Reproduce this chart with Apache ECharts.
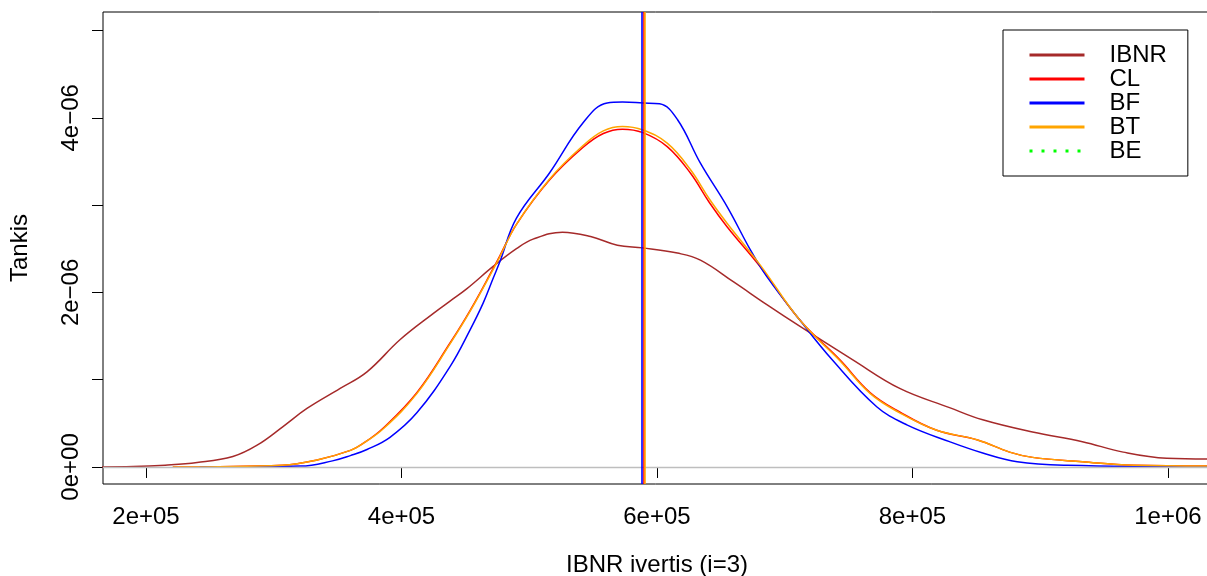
<!DOCTYPE html>
<html>
<head>
<meta charset="utf-8">
<script src="https://cdn.jsdelivr.net/npm/echarts@6/dist/echarts.min.js"></script>
<style>
html,body{margin:0;padding:0;background:#fff;}
#chart{width:1207px;height:576px;}
</style>
</head>
<body>
<div id="chart"></div>
<script>
// density values are in units of 1e-6
const SCALE = 1e-6;

const xIBNR = [150000,190000,215000,240000,268000,287000,307000,326000,352000,373000,399000,425000,438000,451000,472000,490000,503000,526000,548000,569000,589000,616000,634000,660000,686000,712000,753000,790000,829000,855000,894000,933000,965000,999000,1040000];
const yIBNR = [0,0.005,0.02,0.05,0.12,0.25,0.46,0.67,0.90,1.09,1.46,1.76,1.90,2.04,2.30,2.50,2.61,2.69,2.64,2.54,2.51,2.45,2.37,2.12,1.86,1.61,1.23,0.90,0.68,0.54,0.40,0.29,0.17,0.10,0.09];

const xCL = [221000,307000,334000,360000,370000,386000,412000,438000,454000,472000,477000,490000,516000,542000,558000,573000,589000,608000,626000,641000,655000,681000,712000,743000,767000,790000,819000,851000,876000,894000,933000,973000,1040000];
const yCL = [0,0.02,0.08,0.19,0.27,0.45,0.85,1.42,1.80,2.28,2.42,2.78,3.29,3.66,3.82,3.87,3.83,3.67,3.37,3.03,2.75,2.29,1.68,1.23,0.85,0.63,0.42,0.31,0.17,0.11,0.06,0.02,0.01];

const xBT = xCL;
const yBT = [0,0.02,0.08,0.19,0.27,0.44,0.84,1.41,1.79,2.27,2.41,2.78,3.30,3.68,3.85,3.90,3.86,3.71,3.41,3.07,2.79,2.31,1.68,1.22,0.84,0.62,0.42,0.31,0.17,0.11,0.06,0.02,0.01];

const xBF = [242000,321000,346000,360000,373000,391000,412000,438000,454000,464000,472000,477000,490000,516000,542000,561000,573000,589000,602000,616000,634000,655000,673000,686000,712000,737000,772000,796000,829000,855000,882000,921000,1040000];
const yBF = [0,0.01,0.07,0.13,0.20,0.34,0.62,1.15,1.58,1.88,2.17,2.35,2.85,3.37,3.94,4.17,4.18,4.17,4.16,3.98,3.48,2.98,2.49,2.18,1.68,1.23,0.69,0.48,0.29,0.16,0.06,0.02,0];

// vertical reference lines (means)
const meanCL = 589500;
const meanBF = 588400;
const meanBT = 590200;

const seriesNames = ['IBNR','CL','BF','BT','BE'];
const seriesColors = ['#A52A2A','#FF0000','#0000FF','#FFA500','#00FF00'];

const xTicks = [200000,400000,600000,800000,1000000];
const xTickLabels = ['2e+05','4e+05','6e+05','8e+05','1e+06'];
const yTicks = [0,1,2,3,4,5];
const yLabelTicks = [0,2,4];
const yTickLabels = ['0e+00','2e\u221206','4e\u221206'];

function pairs(xs, ys){ return xs.map((x,i)=>[x, ys[i]*SCALE]); }

const FONT = 'Liberation Sans, Arial, Helvetica, sans-serif';

function vline(v, color){
  return {
    silent: true, symbol: ['none','none'],
    label: {show:false},
    lineStyle: {color: color, width: 1.6, type: 'solid'},
    data: [{xAxis: v}],
    animation: false
  };
}

const chart = echarts.init(document.getElementById('chart'));
chart.setOption({
  animation: false,
  backgroundColor: '#fff',
  grid: {left:103, top:12, width:1108, height:472, show:true, borderColor:'#000', borderWidth:1,
    backgroundColor:'transparent', containLabel:false, outerBoundsMode:'none'},
  legend: {
    orient:'vertical', left:1003, top:30,
    padding:[13,21,13,25],
    borderColor:'#000', borderWidth:1,
    itemWidth:55, itemHeight:24, itemGap:0,
    textStyle:{fontFamily:FONT, fontSize:24, color:'#000', lineHeight:24, padding:[0,0,0,20]},
    lineStyle:{width:3},
    itemStyle:{opacity:0},
    data: seriesNames.map(n=>({name:n}))
  },
  xAxis: {
    type:'value', min:166340, max:1033700,
    name:'IBNR ivertis (i=3)', nameLocation:'middle', nameGap:69,
    nameTextStyle:{fontFamily:FONT, fontSize:24, color:'#000'},
    axisLine:{show:false},
    splitLine:{show:false},
    axisTick:{show:true, length:11, lineStyle:{color:'#000', width:1}, customValues: xTicks},
    axisLabel:{fontFamily:FONT, fontSize:24, color:'#000', margin:21, customValues: xTicks,
      formatter: v => { const i = xTicks.indexOf(Math.round(v)); return i>=0 ? xTickLabels[i] : ''; }}
  },
  yAxis: {
    type:'value', min:-0.195*SCALE, max:5.212*SCALE,
    name:'Tankis', nameLocation:'middle', nameGap:71, nameRotate:90,
    nameTextStyle:{fontFamily:FONT, fontSize:24, color:'#000'},
    axisLine:{show:false},
    splitLine:{show:false},
    axisTick:{show:true, length:11, lineStyle:{color:'#000', width:1}, customValues: yTicks.map(t=>t*SCALE)},
    axisLabel:{fontFamily:FONT, fontSize:24, color:'#000', margin:20, rotate:90,
      customValues: yLabelTicks.map(t=>t*SCALE),
      formatter: v => { const i = yLabelTicks.indexOf(Math.round(v/SCALE)); return i>=0 ? yTickLabels[i] : ''; }}
  },
  series: [
    {name:'IBNR', type:'line', data: pairs(xIBNR,yIBNR), smooth:0.4, symbol:'none', clip:true,
      lineStyle:{color:seriesColors[0], width:1.5}, itemStyle:{color:seriesColors[0]},
      markLine:{silent:true, symbol:['none','none'], label:{show:false},
        lineStyle:{color:'#BEBEBE', width:1.3, type:'solid'}, data:[{yAxis:0}]}},
    {name:'CL', type:'line', data: pairs(xCL,yCL), smooth:0.4, symbol:'none', clip:true,
      lineStyle:{color:seriesColors[1], width:1.5}, itemStyle:{color:seriesColors[1]},
      markLine: vline(meanCL, seriesColors[1])},
    {name:'BF', type:'line', data: pairs(xBF,yBF), smooth:0.4, symbol:'none', clip:true,
      lineStyle:{color:seriesColors[2], width:1.5}, itemStyle:{color:seriesColors[2]},
      markLine: vline(meanBF, seriesColors[2])},
    {name:'BT', type:'line', data: pairs(xBT,yBT), smooth:0.4, symbol:'none', clip:true,
      lineStyle:{color:seriesColors[3], width:1.5}, itemStyle:{color:seriesColors[3]},
      markLine: vline(meanBT, seriesColors[3])},
    {name:'BE', type:'line', data: [], symbol:'none',
      lineStyle:{color:seriesColors[4], width:3, type:[3,9]}, itemStyle:{color:seriesColors[4]}}
  ]
});
</script>
</body>
</html>
